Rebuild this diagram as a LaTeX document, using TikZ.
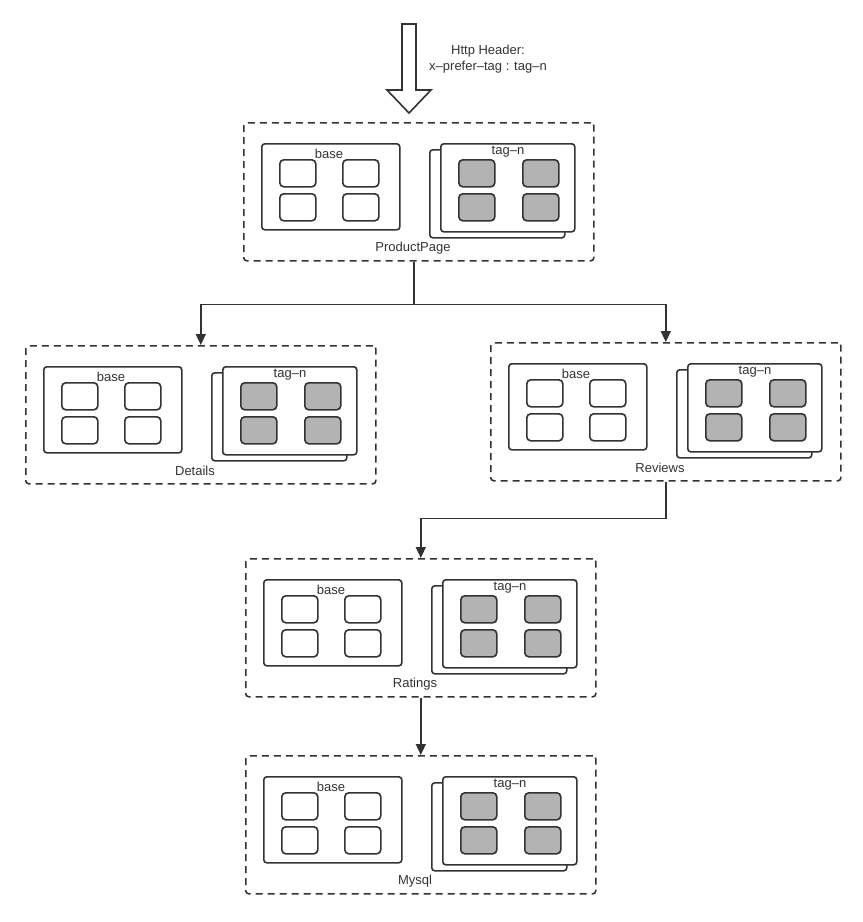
\documentclass[tikz,border=0pt]{standalone}
\usepackage{fontspec}
\setmainfont{Liberation Sans}
\usetikzlibrary{arrows.meta}
\definecolor{lc}{HTML}{333333}
\definecolor{cg}{HTML}{B3B3B3}
\tikzset{
 clus/.style={draw=lc, line width=1.6pt, dash pattern=on 7pt off 5pt, rounded corners=3pt, minimum width=350pt, minimum height=138pt, inner sep=0pt, anchor=north west},
 inbox/.style={draw=lc, line width=1.6pt, rounded corners=3pt, fill=white, inner sep=0pt, anchor=north west},
 cell/.style={draw=lc, line width=1.6pt, rounded corners=4pt, fill=white, minimum width=36pt, minimum height=27pt, inner sep=0pt, anchor=north west},
 gcell/.style={cell, fill=cg},
 lbl/.style={font=\fontsize{13}{16}\selectfont, text=lc, inner sep=0pt},
 wire/.style={draw=lc, line width=1.6pt},
 conn/.style={wire, -{Triangle[length=11pt,width=10pt]}},
 bigarrow/.style={draw=lc, line width=1.6pt, fill=white, line join=miter}
}
\newcommand\svc[4]{%
\begin{scope}[shift={(#2,#3)}]
 \node[clus] (#1) at (0,0) {};
 \node[inbox, minimum width=138pt, minimum height=86pt] (#1-base) at (18,21) {};
 \node[lbl] (#1-bl) at (86,32) {base};
 \node[cell] (#1-b1) at (36,37) {};
 \node[cell] (#1-b2) at (99,37) {};
 \node[cell] (#1-b3) at (36,71) {};
 \node[cell] (#1-b4) at (99,71) {};
 \node[inbox, minimum width=135pt, minimum height=88pt] (#1-tagb) at (186,27) {};
 \node[inbox, minimum width=134pt, minimum height=88pt] (#1-tag) at (197,21) {};
 \node[lbl] (#1-tl) at (265,30) {tag–n};
 \node[gcell] (#1-g1) at (215,37) {};
 \node[gcell] (#1-g2) at (279,37) {};
 \node[gcell] (#1-g3) at (215,71) {};
 \node[gcell] (#1-g4) at (279,71) {};
 \node[lbl] (#1-name) at (170,126) {#4};
\end{scope}}
\begin{document}
\begin{tikzpicture}[x=1pt,y=-1pt]
\useasboundingbox (0,0) rectangle (863,922);
\svc{pp}{243}{122}{ProductPage}
\svc{det}{25}{345}{Details}
\svc{rev}{490}{342}{Reviews}
\svc{rat}{245}{558}{Ratings}
\svc{my}{245}{755}{Mysql}
% incoming request arrow
\draw[bigarrow] (402,24) -- (416,24) -- (416,90) -- (431,90) -- (409,113) -- (387,90) -- (402,90) -- cycle;
\node[lbl, align=center] (hdr) at (488,59) {Http Header:\\x–prefer–tag : tag–n};
% connectors
\draw[wire] ([xshift=-5pt]pp.south) -- ++(0,43) coordinate (j1);
\draw[conn] (j1) -| (det.north);
\draw[conn] (j1) -| (rev.north);
\draw[wire] (rev.south) -- ++(0,37) coordinate (j2);
\draw[conn] (j2) -| (rat.north);
\draw[conn] (rat.south) -- (my.north);
\end{tikzpicture}
\end{document}
